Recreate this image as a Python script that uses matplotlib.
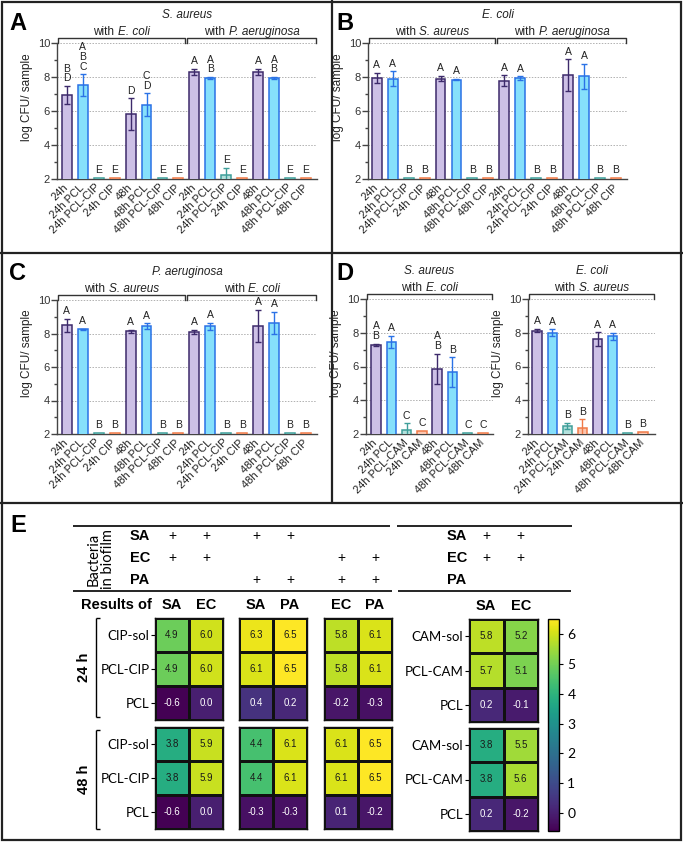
import matplotlib
matplotlib.use('Agg')
import matplotlib.pyplot as plt
import numpy as np
from matplotlib.lines import Line2D
from matplotlib.patches import Rectangle
from matplotlib.offsetbox import TextArea, HPacker, AnnotationBbox
import matplotlib.transforms as mtransforms

# ---------------- data ----------------
cip_labels = ["24h", "24h PCL", "24h PCL-CIP", "24h CIP", "48h", "48h PCL", "48h PCL-CIP", "48h CIP"]
cam_labels = ["24h", "24h PCL", "24h PCL-CAM", "24h CAM", "48h", "48h PCL", "48h PCL-CAM", "48h CAM"]

a_title = "S. aureus"
a_groups = [("with", "E. coli"), ("with", "P. aeruginosa")]
a_mean = [6.94, 7.53, 2.05, 2.05, 5.82, 6.36, 2.05, 2.05, 8.30, 7.95, 2.25, 2.05, 8.30, 7.95, 2.05, 2.05]
a_err = [0.53, 0.62, 0, 0, 0.92, 0.68, 0, 0, 0.18, 0.05, 0.40, 0, 0.18, 0.05, 0, 0]
a_letters = ["B\nD", "A\nB\nC", "E", "E", "D", "C\nD", "E", "E",
             "A", "A\nB", "E", "E", "A", "A\nB", "E", "E"]

b_title = "E. coli"
b_groups = [("with", "S. aureus"), ("with", "P. aeruginosa")]
b_mean = [7.94, 7.90, 2.05, 2.05, 7.90, 7.85, 2.05, 2.05, 7.78, 7.94, 2.05, 2.05, 8.11, 8.05, 2.05, 2.05]
b_err = [0.32, 0.43, 0, 0, 0.15, 0.05, 0, 0, 0.31, 0.10, 0, 0, 0.93, 0.74, 0, 0]
b_letters = ["A", "A", "B", "B"] * 4

c_title = "P. aeruginosa"
c_groups = [("with", "S. aureus"), ("with", "E. coli")]
c_mean = [8.49, 8.24, 2.05, 2.05, 8.12, 8.43, 2.05, 2.05, 8.08, 8.43, 2.05, 2.05, 8.45, 8.63, 2.05, 2.05]
c_err = [0.38, 0.05, 0, 0, 0.08, 0.17, 0, 0, 0.12, 0.20, 0, 0, 0.95, 0.65, 0, 0]
c_letters = ["A", "A", "B", "B"] * 4

d1_title = "S. aureus"
d1_groups = [("with", "E. coli")]
d1_mean = [7.27, 7.45, 2.22, 2.17, 5.85, 5.66, 2.04, 2.04]
d1_err = [0.08, 0.35, 0.41, 0.02, 0.90, 0.88, 0.02, 0.02]
d1_letters = ["A\nB", "A", "C", "C", "A\nB", "B", "C", "C"]

d2_title = "E. coli"
d2_groups = [("with", "S. aureus")]
d2_mean = [8.12, 8.00, 2.47, 2.36, 7.62, 7.78, 2.04, 2.14]
d2_err = [0.10, 0.20, 0.20, 0.50, 0.40, 0.22, 0.02, 0.02]
d2_letters = ["A", "A", "B", "B", "A", "A", "B", "B"]

hm_rows_cip = ["CIP-sol", "PCL-CIP", "PCL"]
hm_rows_cam = ["CAM-sol", "PCL-CAM", "PCL"]
hm_cols = [["SA", "EC"], ["SA", "PA"], ["EC", "PA"]]
cam_cols = ["SA", "EC"]
hm_24h = [[[4.9, 6.0], [4.9, 6.0], [-0.6, 0.0]],
          [[6.3, 6.5], [6.1, 6.5], [0.4, 0.2]],
          [[5.8, 6.1], [5.8, 6.1], [-0.2, -0.3]]]
hm_48h = [[[3.8, 5.9], [3.8, 5.9], [-0.6, 0.0]],
          [[4.4, 6.1], [4.4, 6.1], [-0.3, -0.3]],
          [[6.1, 6.5], [6.1, 6.5], [0.1, -0.2]]]
cam_24h = [[5.8, 5.2], [5.7, 5.1], [0.2, -0.1]]
cam_48h = [[3.8, 5.5], [3.8, 5.6], [0.2, -0.2]]
time_labels = ["24 h", "48 h"]
biofilm_species = ["SA", "EC", "PA"]
biofilm_cip = [[1, 1, 1, 1, 0, 0],
               [1, 1, 0, 0, 1, 1],
               [0, 0, 1, 1, 1, 1]]
biofilm_cam = [[1, 1], [1, 1], [0, 0]]
cbar_ticks = [0, 1, 2, 3, 4, 5, 6]
vmin, vmax = -0.6, 6.5

# ---------------- layout helpers ----------------
W, H, DPI = 683, 843, 100
plt.rcParams['font.family'] = ['Liberation Sans', 'DejaVu Sans']
fig = plt.figure(figsize=(W / DPI, H / DPI), dpi=DPI)


def add_ax(l, t, r, b):
    return fig.add_axes([l / W, 1 - b / H, (r - l) / W, (b - t) / H])


def fline(x0, y0, x1, y1, lw=1.0, color='black'):
    fig.add_artist(Line2D([x0 / W, x1 / W], [1 - y0 / H, 1 - y1 / H],
                          transform=fig.transFigure, lw=lw, color=color,
                          solid_capstyle='butt'))


def ftext(x, y, s, **kw):
    fig.text(x / W, 1 - y / H, s, **kw)


fill_cols = ["#cdc0e6", "#86e0fb", "#b3e0dc", "#fbc5ae"]
edge_cols = ["#3d2a6b", "#2a72e6", "#3f9f9a", "#f07a48"]


def mixed_label(ax, x, y, trans, plain, ital, fs=8.5):
    t1 = TextArea(plain, textprops=dict(fontsize=fs, color='#222222'))
    t2 = TextArea(ital, textprops=dict(fontsize=fs, color='#222222', style='italic'))
    pk = HPacker(children=[t1, t2], align='baseline', pad=0, sep=2.6)
    ab = AnnotationBbox(pk, (x, y), xycoords=trans, frameon=False,
                        box_alignment=(0.5, 0.5), pad=0, annotation_clip=False)
    ax.add_artist(ab)


def bar_panel(box, means, errs, letters, labels, title, groups, xlim, ylabel_dx=24):
    l, t, r, b = box
    ax = add_ax(l, t, r, b)
    hpx = b - t
    n = len(means)
    x = np.arange(n)
    for i in range(n):
        k = i % 4
        ax.bar(x[i], means[i], width=0.62, color=fill_cols[k], edgecolor=edge_cols[k],
               linewidth=1.1, zorder=3)
        if errs[i] > 0.03:
            ax.errorbar(x[i], means[i], yerr=errs[i], ecolor=edge_cols[k], elinewidth=1.0,
                        capsize=2.5, capthick=1.0, fmt='none', zorder=4)
        ax.annotate(letters[i], (x[i], means[i] + errs[i]), xytext=(0, 2),
                    textcoords='offset points', ha='center', va='bottom',
                    fontsize=7.5, linespacing=0.95, color='#222222', zorder=5)
    ax.set_xlim(*xlim)
    ax.set_ylim(2, 10)
    ax.set_yticks([2, 4, 6, 8, 10])
    ax.set_yticks([3, 5, 7, 9], minor=True)
    ax.set_yticklabels(["2", "4", "6", "8", "10"], fontsize=8, color='#333333')
    ax.yaxis.grid(True, which='major', ls=(0, (1.5, 1.5)), color='#b0b0b0', lw=0.7)
    ax.set_axisbelow(True)
    ax.tick_params(axis='y', which='major', length=4, width=1, color='#444444', pad=1)
    ax.tick_params(axis='y', which='minor', length=2, width=1, color='#444444')
    ax.set_xticks(x)
    ax.set_xticklabels(labels, rotation=45, ha='right', va='center',
                       rotation_mode='anchor', fontsize=8, color='#222222')
    ax.tick_params(axis='x', length=0, pad=5)
    for s in ['top', 'right']:
        ax.spines[s].set_visible(False)
    for s in ['left', 'bottom']:
        ax.spines[s].set_color('#444444')
        ax.spines[s].set_linewidth(1.0)
    ax.set_ylabel("log CFU/ sample", fontsize=8.5, color='#222222')
    ax.yaxis.set_label_coords(-ylabel_dx / (r - l), 0.6)
    # brackets
    trans = mtransforms.blended_transform_factory(ax.transData, ax.transAxes)
    ng = len(groups)
    x0, x1 = xlim
    top = 1 + 5 / hpx
    mid = (n - 1) / 2
    for g, (w1, w2) in enumerate(groups):
        if ng == 2:
            gl = x0 + 0.05 if g == 0 else mid + 0.07
            gr = mid - 0.07 if g == 0 else x1 - 0.05
        else:
            gl, gr = x0 + 0.05, x1 - 0.05
        ax.plot([gl, gl, gr, gr], [1.0, top, top, 1.0], transform=trans,
                color='#333333', lw=1.0, clip_on=False)
        mixed_label(ax, (gl + gr) / 2, 1 + 11 / hpx, trans, w1, w2)
    ax.text(0.5, 1 + 28 / hpx, title, transform=ax.transAxes,
            ha='center', va='center', fontsize=8.5, style='italic', color='#222222')
    return ax


bar_panel((57, 43, 317, 179), a_mean, a_err, a_letters, cip_labels * 2, a_title, a_groups, (-0.62, 15.7))
bar_panel((368, 43, 627, 179), b_mean, b_err, b_letters, cip_labels * 2, b_title, b_groups, (-0.55, 15.7))
bar_panel((57, 300, 317, 434), c_mean, c_err, c_letters, cip_labels * 2, c_title, c_groups, (-0.62, 15.7))
bar_panel((366, 299, 493, 434), d1_mean, d1_err, d1_letters, cam_labels, d1_title, d1_groups, (-0.65, 7.65))
bar_panel((528, 299, 655, 434), d2_mean, d2_err, d2_letters, cam_labels, d2_title, d2_groups, (-0.6, 7.8))

# ---------------- panel E ----------------
cmap = plt.get_cmap('viridis')
blocks_x = [(155, 223), (239, 307), (324, 392)]
cam_x = (469, 538)
times_y = [(618, 720), (727, 829)]
hfont = ['Lato', 'DejaVu Sans']


def heat(box, data, cols, rows, show_rows, show_cols):
    l, t, r, b = box
    ax = add_ax(l, t, r, b)
    arr = np.array(data, dtype=float)
    m = ax.pcolormesh(arr, cmap=cmap, vmin=vmin, vmax=vmax, edgecolors='#111111', linewidth=0.8)
    ax.set_xlim(0, arr.shape[1])
    ax.set_ylim(arr.shape[0], 0)
    for i in range(arr.shape[0]):
        for j in range(arr.shape[1]):
            v = arr[i, j]
            ax.text(j + 0.5, i + 0.5, f"{v:.1f}", ha='center', va='center', fontsize=7,
                    color='#1a1a1a' if v > 2.5 else 'white')
    if show_rows:
        ax.set_yticks(np.arange(arr.shape[0]) + 0.5)
        ax.set_yticklabels(rows, fontsize=9.5, family=hfont)
        ax.tick_params(axis='y', length=3, width=0.8, pad=1)
    else:
        ax.set_yticks([])
    if show_cols:
        ax.xaxis.tick_top()
        ax.set_xticks(np.arange(arr.shape[1]) + 0.5)
        ax.set_xticklabels(cols, fontsize=10.5, fontweight='bold')
        ax.tick_params(axis='x', length=0, pad=4)
    else:
        ax.set_xticks([])
    for s in ax.spines.values():
        s.set_linewidth(1.0)
        s.set_color('#111111')
    return m


mesh = None
for ti, (t0, t1) in enumerate(times_y):
    src = hm_24h if ti == 0 else hm_48h
    for bi, (l, r) in enumerate(blocks_x):
        mesh = heat((l, t0, r, t1), src[bi], hm_cols[bi], hm_rows_cip, bi == 0, ti == 0)
    heat((cam_x[0], t0 + 1, cam_x[1], t1 + 2), cam_24h if ti == 0 else cam_48h, cam_cols,
         hm_rows_cam, True, ti == 0)

cax = add_ax(548, 619, 559, 831)
cb = fig.colorbar(mesh, cax=cax)
cb.set_ticks(cbar_ticks)
cb.ax.tick_params(labelsize=10, length=3, width=0.8, pad=3)
for lab in cb.ax.get_yticklabels():
    lab.set_family(hfont)
cb.outline.set_linewidth(1.0)

# time brackets
for ti, (t0, t1) in enumerate(times_y):
    ya, yb = t0 + (0 if ti == 0 else 3), t1 - 3 if ti == 0 else t1
    fline(96, ya, 96, yb, lw=1.0)
    fline(96, ya, 100, ya, lw=1.0)
    fline(96, yb, 100, yb, lw=1.0)
    ftext(84, (ya + yb) / 2, time_labels[ti], rotation=90, ha='center', va='center',
          fontsize=10.5, fontweight='bold')

# biofilm composition table
row_y = [536, 558, 580]
fline(73, 526, 390, 526, lw=1.2)
fline(397, 526, 572, 526, lw=1.2)
fline(73, 591, 392, 591, lw=1.2)
fline(398, 591, 571, 591, lw=1.2)
ftext(101, 559, "Bacteria\nin biofilm", rotation=90, ha='center', va='center',
      fontsize=10.5, linespacing=1.0, family=hfont)
cip_col_x = []
for (l, r) in blocks_x:
    cw = (r - l) / 2
    cip_col_x += [l + cw * 0.5, l + cw * 1.5]
cam_col_x = [cam_x[0] + (cam_x[1] - cam_x[0]) * f for f in (0.25, 0.75)]
for si, sp in enumerate(biofilm_species):
    ftext(140, row_y[si], sp, ha='center', va='center', fontsize=10.5, fontweight='bold')
    ftext(457, row_y[si], sp, ha='center', va='center', fontsize=10.5, fontweight='bold')
    for ci, cx in enumerate(cip_col_x):
        if biofilm_cip[si][ci]:
            ftext(cx, row_y[si], "+", ha='center', va='center', fontsize=10)
    for ci, cx in enumerate(cam_col_x):
        if biofilm_cam[si][ci]:
            ftext(cx, row_y[si], "+", ha='center', va='center', fontsize=10)
ftext(116, 605, "Results of", ha='center', va='center', fontsize=10.5, fontweight='bold')

# ---------------- panel frames & letters ----------------
fig.add_artist(Rectangle((2 / W, 1 - 840 / H), 679 / W, 838 / H, transform=fig.transFigure,
                         fill=False, lw=1.6, ec='#222222'))
fline(0, 253, W, 253, lw=1.6, color='#222222')
fline(0, 503, W, 503, lw=1.6, color='#222222')
fline(332, 0, 332, 503, lw=1.6, color='#222222')
for lt, (lx, ly) in zip("ABCDE", [(18, 23), (345, 23), (18, 273), (345, 273), (18, 525)]):
    ftext(lx, ly, lt, ha='center', va='center', fontsize=17, fontweight='bold')

fig.savefig("out.png", dpi=DPI)
